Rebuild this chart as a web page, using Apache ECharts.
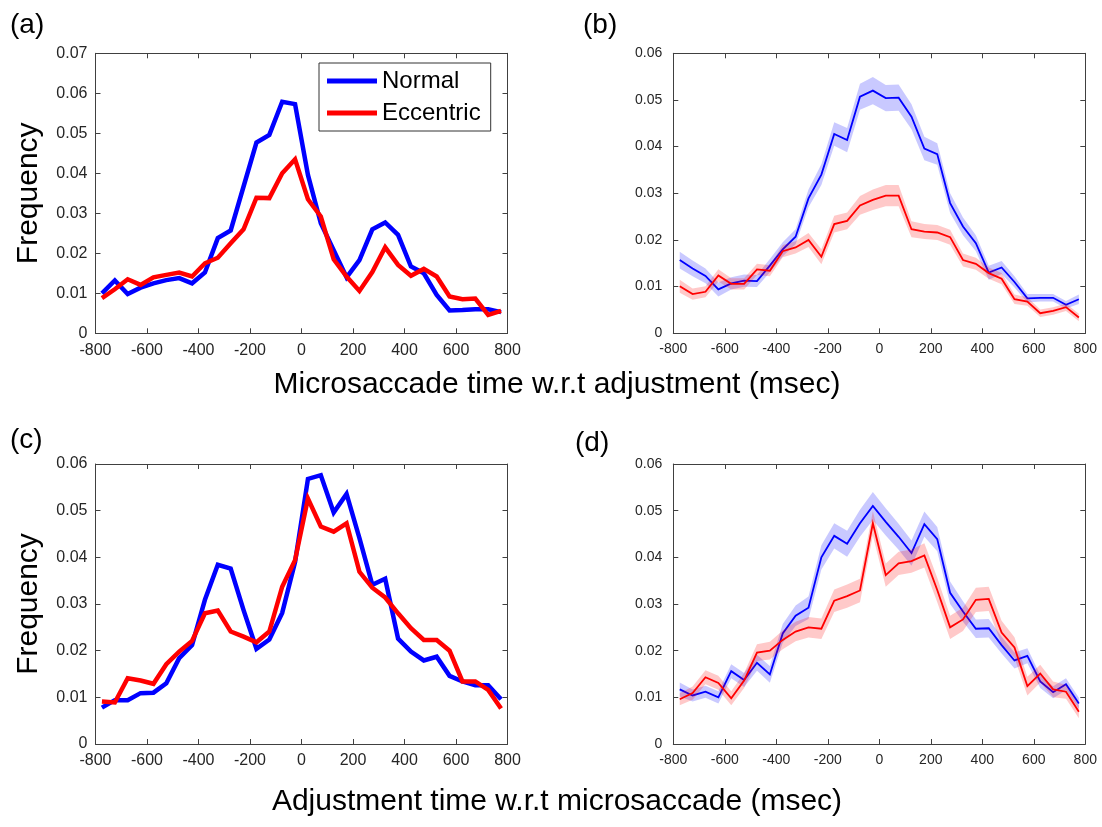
<!DOCTYPE html>
<html><head><meta charset="utf-8">
<script src="https://cdn.jsdelivr.net/npm/echarts@6/dist/echarts.min.js"></script>
<style>html,body{margin:0;padding:0;background:#fff}#c{width:1102px;height:827px}</style>
</head><body><div id="c"></div>
<script>
// bin centres (msec)
const timeBins = [-775,-725,-675,-625,-575,-525,-475,-425,-375,-325,-275,-225,-175,-125,-75,-25,25,75,125,175,225,275,325,375,425,475,525,575,625,675,725,775];

// (a) Microsaccade time w.r.t adjustment, example subject
const aNormal = [0.0100,0.0132,0.0098,0.0114,0.0125,0.0133,0.0138,0.0125,0.0152,0.0238,0.0257,0.0367,0.0477,0.0496,0.0579,0.0573,0.0396,0.0275,0.0208,0.0140,0.0183,0.0260,0.0277,0.0246,0.0167,0.0150,0.0096,0.0057,0.0058,0.0060,0.0060,0.0053];
const aEccentric = [0.0088,0.0110,0.0135,0.0121,0.0140,0.0146,0.0152,0.0142,0.0175,0.0189,0.0225,0.0260,0.0339,0.0338,0.0400,0.0435,0.0335,0.0292,0.0185,0.0142,0.0106,0.0153,0.0215,0.0171,0.0144,0.0161,0.0142,0.0092,0.0085,0.0087,0.0046,0.0056];

// (b) group mean with error band (half-width)
const bNormal = [0.0157,0.0139,0.0123,0.0094,0.0107,0.0113,0.0112,0.0145,0.0180,0.0207,0.0289,0.0340,0.0427,0.0414,0.0507,0.0520,0.0504,0.0505,0.0464,0.0396,0.0384,0.0279,0.0229,0.0193,0.0130,0.0141,0.0110,0.0075,0.0076,0.0076,0.0061,0.0073];
const bNormalErr = [0.0018,0.0017,0.0016,0.0015,0.0013,0.0013,0.0013,0.0014,0.0015,0.0016,0.0019,0.0022,0.0025,0.0026,0.0028,0.0029,0.0028,0.0028,0.0027,0.0025,0.0023,0.0021,0.0019,0.0017,0.0015,0.0014,0.0012,0.0009,0.0008,0.0008,0.0008,0.0010];
const bEccentric = [0.0101,0.0084,0.0089,0.0124,0.0106,0.0106,0.0137,0.0134,0.0176,0.0184,0.0200,0.0164,0.0234,0.0241,0.0274,0.0286,0.0295,0.0295,0.0223,0.0218,0.0216,0.0206,0.0157,0.0149,0.0129,0.0117,0.0073,0.0068,0.0043,0.0048,0.0056,0.0034];
const bEccentricErr = [0.0014,0.0012,0.0012,0.0013,0.0012,0.0012,0.0012,0.0012,0.0013,0.0013,0.0015,0.0016,0.0018,0.0018,0.0020,0.0022,0.0023,0.0023,0.0017,0.0016,0.0016,0.0016,0.0014,0.0013,0.0012,0.0012,0.0010,0.0009,0.0008,0.0008,0.0008,0.0008];

// (c) Adjustment time w.r.t microsaccade, example subject
const cNormal = [0.0078,0.0094,0.0094,0.0109,0.0110,0.0130,0.0184,0.0212,0.0309,0.0384,0.0376,0.0287,0.0204,0.0224,0.0281,0.0390,0.0568,0.0576,0.0496,0.0536,0.0441,0.0341,0.0354,0.0226,0.0198,0.0179,0.0187,0.0146,0.0134,0.0126,0.0126,0.0096];
const cEccentric = [0.0091,0.0089,0.0141,0.0136,0.0129,0.0171,0.0198,0.0221,0.0280,0.0286,0.0241,0.0230,0.0218,0.0241,0.0337,0.0394,0.0526,0.0466,0.0455,0.0473,0.0369,0.0335,0.0314,0.0280,0.0248,0.0223,0.0223,0.0200,0.0134,0.0134,0.0116,0.0076];

// (d) group mean with error band (half-width)
const dNormal = [0.0117,0.0104,0.0112,0.0100,0.0156,0.0137,0.0174,0.0149,0.0237,0.0275,0.0292,0.0400,0.0446,0.0429,0.0473,0.0510,0.0476,0.0444,0.0409,0.0471,0.0439,0.0324,0.0284,0.0247,0.0248,0.0212,0.0179,0.0189,0.0134,0.0111,0.0128,0.0087];
const dNormalErr = [0.0015,0.0013,0.0013,0.0013,0.0015,0.0015,0.0017,0.0018,0.0020,0.0022,0.0024,0.0026,0.0027,0.0028,0.0029,0.0030,0.0029,0.0028,0.0027,0.0027,0.0026,0.0024,0.0022,0.0020,0.0020,0.0018,0.0017,0.0016,0.0014,0.0013,0.0013,0.0012];
const dEccentric = [0.0096,0.0109,0.0143,0.0131,0.0098,0.0136,0.0196,0.0200,0.0223,0.0241,0.0250,0.0247,0.0307,0.0317,0.0329,0.0473,0.0362,0.0387,0.0392,0.0404,0.0330,0.0250,0.0267,0.0309,0.0311,0.0239,0.0207,0.0124,0.0151,0.0117,0.0112,0.0069];
const dEccentricErr = [0.0013,0.0014,0.0015,0.0015,0.0015,0.0016,0.0018,0.0019,0.0020,0.0021,0.0022,0.0022,0.0024,0.0025,0.0025,0.0026,0.0025,0.0025,0.0025,0.0026,0.0026,0.0025,0.0025,0.0026,0.0026,0.0025,0.0022,0.0020,0.0019,0.0017,0.0015,0.0014];

const seriesNames = ['Normal', 'Eccentric'];
const panelLabels = ['(a)', '(b)', '(c)', '(d)'];
const yMax = [0.07, 0.06, 0.06, 0.06];
const topXLabel = 'Microsaccade time w.r.t adjustment (msec)';
const bottomXLabel = 'Adjustment time w.r.t microsaccade (msec)';
const yLabel = 'Frequency';

const FONT = '"Liberation Sans", Arial, Helvetica, sans-serif';
const AX = '#404040';
const BLUE = '#0000ff', RED = '#ff0000';

const grids = [
  {left: 95.5, top: 53.3, width: 412, height: 280},
  {left: 673.3, top: 53.3, width: 412, height: 280},
  {left: 95.5, top: 464, width: 412, height: 280},
  {left: 673.3, top: 464, width: 412, height: 280}
].map(g => Object.assign({containLabel: false, outerBoundsMode: 'none'}, g));

const xAxes = [], yAxes = [];
grids.forEach((g, i) => {
  const fs = (i % 2 === 0) ? 16 : 14;
  const common = {
    gridIndex: i, type: 'value',
    axisLine: {show: true, onZero: false, lineStyle: {color: AX, width: 1}},
    axisTick: {show: true, inside: true, length: 5, lineStyle: {color: AX, width: 1}},
    splitLine: {show: false}
  };
  xAxes.push(Object.assign({}, common, {
    position: 'bottom', min: -800, max: 800, interval: 200,
    axisLabel: {show: true, margin: 9, color: '#262626', fontSize: fs, fontFamily: FONT}
  }));
  xAxes.push(Object.assign({}, common, {
    position: 'top', min: -800, max: 800, interval: 200,
    axisLabel: {show: false}
  }));
  yAxes.push(Object.assign({}, common, {
    position: 'left', min: 0, max: yMax[i], interval: 0.01,
    name: (i % 2 === 0) ? yLabel : '',
    nameLocation: 'middle', nameGap: 52,
    nameTextStyle: {fontSize: 30, color: '#000', fontFamily: FONT},
    axisLabel: {show: true, margin: (i % 2 === 0) ? 8 : 11, color: '#262626', fontSize: fs, fontFamily: FONT,
      formatter: v => v === 0 ? '0' : v.toFixed(2)}
  }));
  yAxes.push(Object.assign({}, common, {
    position: 'right', min: 0, max: yMax[i], interval: 0.01,
    axisLabel: {show: false}
  }));
});

const pts = vals => timeBins.map((t, k) => [t, vals[k]]);
const series = [];
function addLine(gi, name, vals, color, width, z) {
  series.push({
    type: 'line', name: name, xAxisIndex: 2 * gi, yAxisIndex: 2 * gi,
    data: pts(vals), symbol: 'none', showSymbol: false, z: z,
    color: color, itemStyle: {color: color},
    lineStyle: {color: color, width: width, join: 'miter'},
    emphasis: {disabled: true}, silent: true
  });
}
// shaded band (mean +/- err) drawn as one polygon through the axis scales
function addBand(gi, vals, errs, fill, z) {
  const lower = vals.map((v, k) => v - errs[k]);
  const upper = vals.map((v, k) => v + errs[k]);
  series.push({
    type: 'custom', xAxisIndex: 2 * gi, yAxisIndex: 2 * gi, z: z, silent: true,
    data: timeBins.map((t, k) => [t, lower[k], upper[k]]),
    encode: {x: 0, y: [1, 2]},
    renderItem: function (params, api) {
      if (params.dataIndex !== 0) return null;
      const poly = [];
      for (let k = 0; k < timeBins.length; k++) poly.push(api.coord([timeBins[k], upper[k]]));
      for (let k = timeBins.length - 1; k >= 0; k--) poly.push(api.coord([timeBins[k], lower[k]]));
      return {type: 'polygon', shape: {points: poly}, style: {fill: fill, stroke: null}};
    }
  });
}
const BLUE_FILL = 'rgba(0,0,255,0.21)', RED_FILL = 'rgba(255,0,0,0.21)';

// (a)
addLine(0, seriesNames[0], aNormal, BLUE, 4.5, 2);
addLine(0, seriesNames[1], aEccentric, RED, 4.5, 3);
// (b)
addBand(1, bNormal, bNormalErr, BLUE_FILL, 1);
addLine(1, seriesNames[0], bNormal, BLUE, 1.8, 2);
addBand(1, bEccentric, bEccentricErr, RED_FILL, 3);
addLine(1, seriesNames[1], bEccentric, RED, 1.8, 4);
// (c)
addLine(2, seriesNames[0], cNormal, BLUE, 4.5, 2);
addLine(2, seriesNames[1], cEccentric, RED, 4.5, 3);
// (d)
addBand(3, dNormal, dNormalErr, BLUE_FILL, 1);
addLine(3, seriesNames[0], dNormal, BLUE, 1.8, 2);
addBand(3, dEccentric, dEccentricErr, RED_FILL, 3);
addLine(3, seriesNames[1], dEccentric, RED, 1.8, 4);

const labelPos = [[10, 25], [583, 25], [10, 440], [575, 443]];
const graphics = panelLabels.map((t, i) => ({
  type: 'text', x: labelPos[i][0], y: labelPos[i][1],
  style: {text: t, fontSize: 28, fontFamily: FONT, fill: '#000', align: 'left', verticalAlign: 'middle'}
}));
graphics.push({type: 'text', x: 557, y: 385,
  style: {text: topXLabel, fontSize: 30, fontFamily: FONT, fill: '#000', align: 'center', verticalAlign: 'middle'}});
graphics.push({type: 'text', x: 557, y: 802,
  style: {text: bottomXLabel, fontSize: 30, fontFamily: FONT, fill: '#000', align: 'center', verticalAlign: 'middle'}});

const chart = echarts.init(document.getElementById('c'), null, {renderer: 'canvas'});
chart.setOption({
  animation: false,
  backgroundColor: '#fff',
  grid: grids,
  xAxis: xAxes,
  yAxis: yAxes,
  legend: {
    data: seriesNames, orient: 'vertical', left: 319, top: 63,
    padding: [5, 10, 5, 8], itemGap: 6, itemWidth: 50, itemHeight: 5, icon: 'rect',
    selectedMode: false,
    textStyle: {fontSize: 24, lineHeight: 26, color: '#000', fontFamily: FONT},
    borderColor: '#333', borderWidth: 1, borderRadius: 0, backgroundColor: '#fff'
  },
  graphic: graphics,
  series: series
});
</script>
</body></html>
